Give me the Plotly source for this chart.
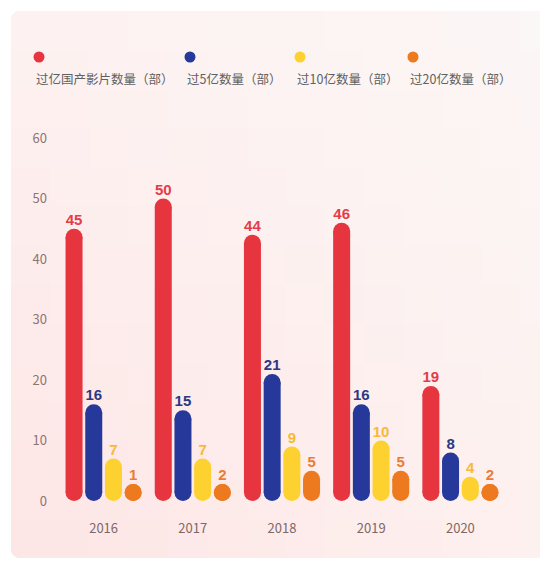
import plotly.graph_objects as go

# ---------------- data ----------------
years = ["2016", "2017", "2018", "2019", "2020"]
series_names = ["过亿国产影片数量（部）", "过5亿数量（部）", "过10亿数量（部）", "过20亿数量（部）"]
over_100m = [45, 50, 44, 46, 19]
over_500m = [16, 15, 21, 16, 8]
over_1b = [7, 7, 9, 10, 4]
over_2b = [1, 2, 5, 5, 2]
y_ticks = [0, 10, 20, 30, 40, 50, 60]

series_values = [over_100m, over_500m, over_1b, over_2b]
bar_colors = ["#e7353f", "#26399a", "#fdd12f", "#ee7a1f"]
label_colors = ["#e43c49", "#2e3781", "#f7b937", "#ec7b33"]

# ---------------- layout geometry ----------------
# the page body has an 8px margin, so the figure is offset by 8px in the window
OFF = 8
W, H = 548 - OFF, 566 - 2 * OFF
L, R, T, B = 51, 43, 118, 51
Y_RANGE = [-1, 62]
X_RANGE = [-0.5, 4.5]
PW, PH = W - L - R, H - T - B
px_per_unit_y = PH / (Y_RANGE[1] - Y_RANGE[0])
px_per_unit_x = PW / (X_RANGE[1] - X_RANGE[0])
BAR_PX = 17
BAR_W = BAR_PX / px_per_unit_x
STEP = 19.7 / px_per_unit_x
r_u = (BAR_PX / 2) / px_per_unit_y
min_h = BAR_PX / px_per_unit_y


def px2x(px):
    return (px - OFF - L) / PW


def px2y(py):
    return (H - B - (py - OFF)) / PH


fig = go.Figure()

for k, (name, vals) in enumerate(zip(series_names, series_values)):
    off = (k - 1.5) * STEP
    xs = [i + off for i in range(len(years))]
    tops = [max(v, min_h) for v in vals]
    # straight body of the capsule
    fig.add_trace(go.Bar(
        x=xs, base=[r_u] * len(tops), y=[t - 2 * r_u for t in tops],
        width=BAR_W, marker=dict(color=bar_colors[k], line=dict(width=0)),
        opacity=1, showlegend=False, hoverinfo="skip"))
    # round caps (top and bottom)
    fig.add_trace(go.Scatter(
        x=xs + xs, y=[t - r_u for t in tops] + [r_u] * len(tops),
        mode="markers",
        marker=dict(symbol="circle", size=BAR_PX, color=bar_colors[k],
                    line=dict(width=0)),
        cliponaxis=False, showlegend=False, hoverinfo="skip"))
    # value labels
    fig.add_trace(go.Scatter(
        x=xs, y=tops, mode="text", text=[str(v) for v in vals],
        textposition="top center",
        textfont=dict(family="Liberation Sans, Arial, sans-serif", size=15,
                      color=label_colors[k], weight="bold"),
        cliponaxis=False, showlegend=False, hoverinfo="skip"))

shapes = []
# card background with a soft diagonal gradient (tiles)
cx0, cy0, cx1, cy1 = 11, 11, 560, 558
TL = (253, 242, 241)
TR = (251, 247, 246)
BL = (253, 229, 229)
BR = (253, 241, 239)
NX, NY = 14, 14
for ix in range(NX):
    for iy in range(NY):
        u = (ix + 0.5) / NX
        v = (iy + 0.5) / NY
        col = [round((1 - u) * (1 - v) * TL[c] + u * (1 - v) * TR[c] +
                     (1 - u) * v * BL[c] + u * v * BR[c]) for c in range(3)]
        x0 = cx0 + (cx1 - cx0) * ix / NX
        x1 = cx0 + (cx1 - cx0) * (ix + 1) / NX + 1
        y0 = cy0 + (cy1 - cy0) * iy / NY
        y1 = cy0 + (cy1 - cy0) * (iy + 1) / NY + 1
        shapes.append(dict(type="rect", xref="paper", yref="paper",
                           x0=px2x(x0), x1=px2x(min(x1, cx1)),
                           y0=px2y(y0), y1=px2y(min(y1, cy1)),
                           fillcolor="rgb(%d,%d,%d)" % tuple(col),
                           line=dict(width=0), layer="below"))
# white masks for rounded left corners
rad = 11
for (ax, ay, sy) in [(cx0, cy0, 1), (cx0, cy1, -1)]:
    p = "M %f,%f L %f,%f Q %f,%f %f,%f Z" % (
        px2x(ax - 1), px2y(ay - sy), px2x(ax + rad), px2y(ay - sy),
        px2x(ax), px2y(ay), px2x(ax - 1), px2y(ay + sy * rad))
    shapes.append(dict(type="path", xref="paper", yref="paper", path=p,
                       fillcolor="white", line=dict(width=0), layer="below"))

# custom legend: dot above the text
annotations = []
legend_x = [34, 185, 295, 408]
for k, name in enumerate(series_names):
    dot_cx = legend_x[k] + 5
    shapes.append(dict(type="circle", xref="paper", yref="paper",
                       x0=px2x(dot_cx - 5.5), x1=px2x(dot_cx + 5.5),
                       y0=px2y(51.5), y1=px2y(62.5),
                       fillcolor=bar_colors[k], line=dict(width=0)))
    annotations.append(dict(xref="paper", yref="paper", x=px2x(legend_x[k]),
                            y=px2y(78), xanchor="left", yanchor="middle",
                            text=name, showarrow=False,
                            font=dict(family="Noto Sans CJK SC", size=12.5,
                                      color="#606060")))

fig.update_layout(
    width=W, height=H,
    margin=dict(l=L, r=R, t=T, b=B, pad=0),
    paper_bgcolor="white", plot_bgcolor="rgba(0,0,0,0)",
    barmode="overlay", showlegend=False,
    shapes=shapes, annotations=annotations,
    xaxis=dict(range=X_RANGE, tickvals=list(range(len(years))), ticktext=years,
               showgrid=False, zeroline=False, showline=False, ticks="",
               ticklabelstandoff=12,
               tickfont=dict(family="Noto Sans CJK SC", size=13, color="#7f6767"),
               fixedrange=True),
    yaxis=dict(range=Y_RANGE, tickvals=y_ticks, showgrid=False, zeroline=False,
               showline=False, ticks="", ticklabelstandoff=11,
               tickfont=dict(family="Noto Sans CJK SC", size=13, color="#8a7575"),
               fixedrange=True),
)

fig.write_html("out.html")
